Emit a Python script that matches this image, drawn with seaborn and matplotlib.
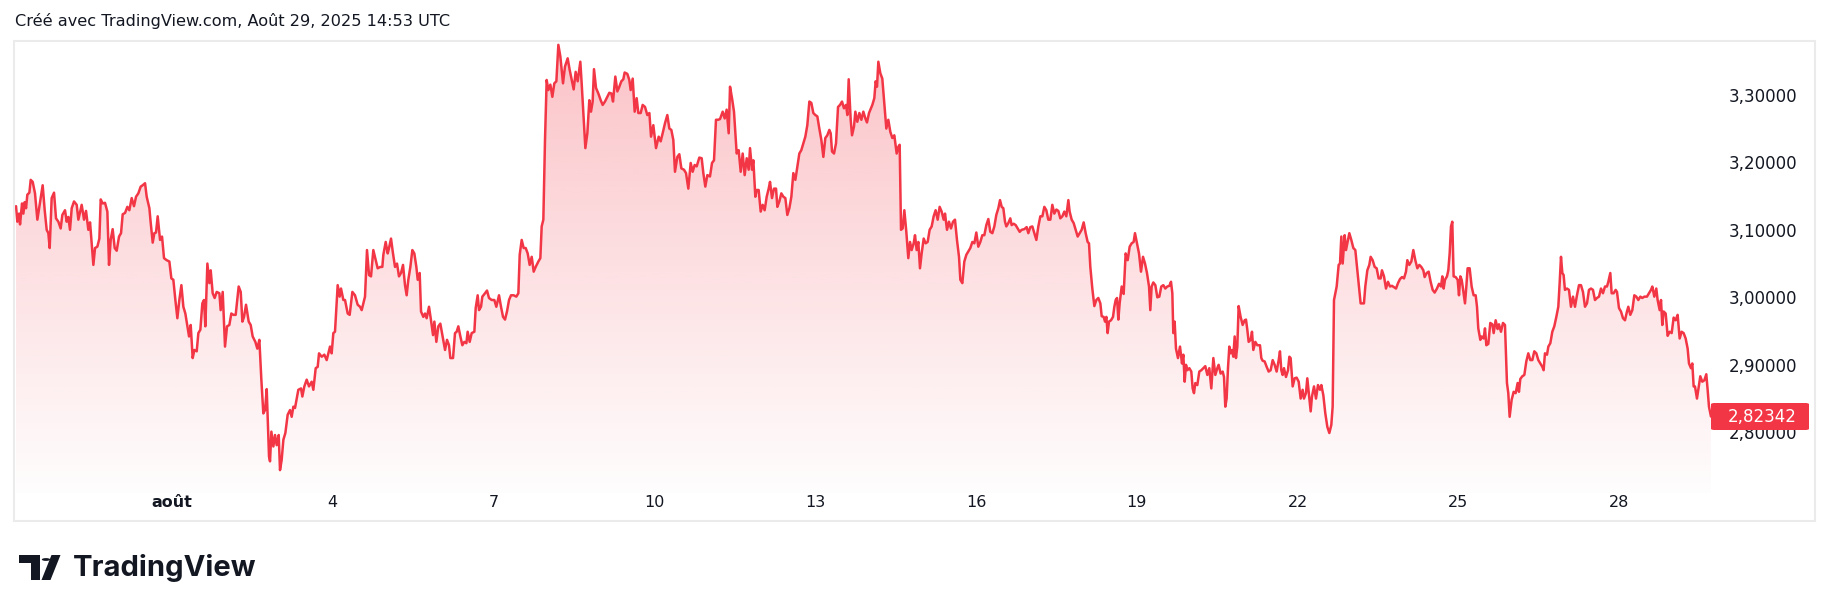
import numpy as np
import pandas as pd
import matplotlib
matplotlib.use("Agg")
import matplotlib.pyplot as plt
import matplotlib.colors as mcolors
from matplotlib.patches import Rectangle, FancyBboxPatch, Polygon, Circle
import seaborn as sns

# ---------------- data (days since 1 Aug 2025, price) ----------------
days = [
    -2.910, -2.885, -2.854, -2.835, -2.798, -2.773, -2.748, -2.723, -2.699, -2.661,
    -2.636, -2.599, -2.556, -2.512, -2.475, -2.413, -2.375, -2.338, -2.307, -2.282,
    -2.245, -2.201, -2.164, -2.120, -2.077, -2.046, -1.996, -1.965, -1.934, -1.903,
    -1.871, -1.828, -1.778, -1.747, -1.685, -1.641, -1.604, -1.561, -1.529, -1.467,
    -1.436, -1.393, -1.355, -1.330, -1.293, -1.250, -1.206, -1.175, -1.144, -1.107,
    -1.069, -1.032, -0.988, -0.951, -0.920, -0.876, -0.833, -0.796, -0.752, -0.709,
    -0.671, -0.628, -0.584, -0.547, -0.503, -0.472, -0.422, -0.398, -0.360, -0.329,
    -0.298, -0.267, -0.223, -0.186, -0.149, -0.099, -0.049, -0.012, 0.025, 0.063,
    0.100, 0.137, 0.175, 0.212, 0.249, 0.287, 0.318, 0.349, 0.386, 0.417,
    0.461, 0.492, 0.529, 0.566, 0.597, 0.622, 0.660, 0.697, 0.722, 0.759,
    0.796, 0.834, 0.884, 0.908, 0.946, 0.989, 1.027, 1.070, 1.107, 1.145,
    1.188, 1.244, 1.282, 1.313, 1.344, 1.381, 1.431, 1.468, 1.505, 1.555,
    1.592, 1.630, 1.667, 1.704, 1.736, 1.767, 1.810, 1.829, 1.854, 1.891,
    1.922, 1.953, 1.991, 2.015, 2.046, 2.078, 2.115, 2.158, 2.202, 2.233,
    2.264, 2.295,
    2.357, 2.407, 2.432, 2.469, 2.513, 2.556, 2.606, 2.637, 2.681, 2.718,
    2.743, 2.793, 2.842, 2.886, 2.948, 2.979, 3.010, 3.041, 3.091, 3.128,
    3.153, 3.197, 3.228, 3.278, 3.315, 3.365, 3.414, 3.464, 3.508, 3.539,
    3.570, 3.601, 3.638, 3.676, 3.713, 3.756, 3.800, 3.837, 3.887, 3.924,
    3.943, 3.987, 4.024, 4.049, 4.086, 4.123, 4.161, 4.198, 4.235, 4.273,
    4.310, 4.347, 4.378, 4.409, 4.447, 4.484, 4.521, 4.559, 4.584, 4.621,
    4.646, 4.689, 4.720, 4.751, 4.795, 4.832, 4.870, 4.895, 4.932, 4.969,
    5.006, 5.056, 5.094, 5.131, 5.168, 5.193, 5.243, 5.280, 5.311, 5.342,
    5.380, 5.417, 5.454, 5.492, 5.516, 5.554, 5.591, 5.641, 5.666, 5.703,
    5.728, 5.765, 5.790, 5.840, 5.877, 5.914, 5.964, 6.014, 6.051, 6.101,
    6.138, 6.176, 6.213, 6.250, 6.288, 6.325, 6.375, 6.424, 6.462, 6.487,
    6.524, 6.561, 6.599, 6.636, 6.673, 6.711, 6.748, 6.785, 6.835, 6.872,
    6.897, 6.928, 6.959, 6.990, 7.021, 7.059, 7.096, 7.133, 7.171, 7.208,
    7.245, 7.295, 7.332, 7.382, 7.419, 7.457, 7.494, 7.531, 7.569, 7.618,
    7.643, 7.712, 7.749, 7.786, 7.817, 7.848, 7.873, 7.911, 7.954, 7.998,
    8.035, 8.078, 8.122, 8.159, 8.197, 8.228, 8.271, 8.309, 8.346, 8.383,
    8.420, 8.445, 8.495, 8.532, 8.557, 8.595, 8.632, 8.669, 8.700, 8.744,
    8.781, 8.825, 8.868, 8.906, 8.937, 8.980, 9.030, 9.080, 9.117, 9.154,
    9.198, 9.241, 9.279, 9.316, 9.353, 9.384, 9.428, 9.465, 9.503, 9.552,
    9.590, 9.633, 9.677, 9.714, 9.751, 9.789, 9.838, 9.882, 9.913, 9.950,
    9.988, 10.037, 10.075, 10.112, 10.149, 10.187, 10.224, 10.274, 10.311, 10.348,
    10.386, 10.411, 10.448, 10.485, 10.535, 10.572, 10.610, 10.647, 10.684, 10.722,
    10.759, 10.784, 10.821, 10.846, 10.883, 10.908, 10.945, 10.983, 11.020, 11.057,
    11.095, 11.132, 11.157, 11.194, 11.231, 11.269, 11.294, 11.331, 11.368, 11.406,
    11.443, 11.480, 11.518, 11.555, 11.592, 11.630, 11.667, 11.704, 11.741, 11.779,
    11.816, 11.853, 11.891, 11.928, 11.965, 12.003, 12.040, 12.077, 12.115, 12.152,
    12.189, 12.226, 12.264, 12.289, 12.314, 12.351, 12.388, 12.426, 12.463, 12.500,
    12.537, 12.575, 12.600, 12.625, 12.662, 12.687, 12.724, 12.749, 12.786, 12.824,
    12.861, 12.898, 12.936,
    12.966, 13.004, 13.041, 13.066, 13.103, 13.128, 13.153, 13.178, 13.215, 13.252,
    13.290, 13.327, 13.364, 13.402, 13.439, 13.476, 13.520, 13.551, 13.576, 13.601,
    13.632, 13.663, 13.700, 13.737, 13.769, 13.800, 13.837, 13.862, 13.893, 13.924,
    13.955, 13.986, 14.024, 14.061, 14.098, 14.135, 14.173, 14.210, 14.247, 14.285,
    14.322, 14.359, 14.397, 14.422, 14.459, 14.496, 14.533, 14.571, 14.608, 14.645,
    14.683, 14.708, 14.745, 14.782, 14.820, 14.857, 14.894, 14.932, 14.969, 15.006,
    15.043, 15.081, 15.118, 15.155, 15.193, 15.230, 15.267, 15.305, 15.342, 15.379,
    15.417, 15.448, 15.479, 15.510, 15.541, 15.566, 15.603, 15.640, 15.665, 15.703,
    15.740, 15.777, 15.815, 15.852, 15.902, 15.945, 15.976, 16.014, 16.051, 16.088,
    16.126, 16.163, 16.200, 16.238, 16.275, 16.312, 16.349, 16.387, 16.424, 16.461,
    16.499, 16.536, 16.573, 16.611, 16.648, 16.685, 16.723, 16.747, 16.785, 16.822,
    16.859, 16.897, 16.934, 16.971, 17.009, 17.046, 17.083, 17.108, 17.133, 17.170,
    17.208, 17.245, 17.282, 17.320, 17.345, 17.382, 17.407, 17.432, 17.456, 17.481,
    17.519, 17.556, 17.581, 17.606, 17.631, 17.656, 17.680, 17.718, 17.755, 17.792,
    17.830, 17.867, 17.904, 17.941, 17.966, 18.004, 18.041, 18.078, 18.116, 18.153,
    18.190, 18.228, 18.252,
    18.277, 18.308, 18.346, 18.383, 18.420, 18.457, 18.495, 18.532, 18.569, 18.607,
    18.638, 18.663, 18.681, 18.706, 18.731, 18.768, 18.806, 18.843, 18.868, 18.893,
    18.918, 18.943, 18.980, 19.017, 19.042, 19.067, 19.092, 19.129, 19.166, 19.204,
    19.241, 19.278, 19.316, 19.353, 19.390, 19.428, 19.465, 19.502, 19.527, 19.564,
    19.602, 19.627, 19.651, 19.676, 19.701, 19.726, 19.751, 19.776, 19.801, 19.826,
    19.850, 19.875, 19.900, 19.937, 19.975, 20.012, 20.037, 20.062, 20.087, 20.124,
    20.149, 20.174, 20.211, 20.248, 20.298, 20.323, 20.348, 20.385, 20.423, 20.460,
    20.497, 20.535, 20.572, 20.609, 20.647, 20.671, 20.696, 20.721, 20.746, 20.783,
    20.821, 20.846, 20.870, 20.908, 20.945, 20.982, 21.020, 21.057, 21.094, 21.119,
    21.156, 21.181, 21.219, 21.244, 21.268, 21.306, 21.343, 21.380, 21.418, 21.443,
    21.480, 21.517, 21.555, 21.592, 21.629, 21.654, 21.679, 21.704, 21.729, 21.766,
    21.791, 21.816, 21.841, 21.878, 21.903, 21.928, 21.965, 22.002, 22.040, 22.077,
    22.114, 22.139, 22.176, 22.214, 22.238, 22.263, 22.301, 22.338, 22.363, 22.400,
    22.438, 22.475, 22.512, 22.550, 22.574, 22.612, 22.649, 22.686, 22.724, 22.761,
    22.798, 22.836, 22.873, 22.910, 22.948, 22.985, 23.022, 23.047, 23.084, 23.122,
    23.159, 23.196, 23.234, 23.271, 23.308, 23.346, 23.370, 23.408, 23.445, 23.482,
    23.520, 23.557,
    23.600, 23.638, 23.675, 23.700, 23.725, 23.750, 23.787, 23.812, 23.837, 23.862,
    23.886, 23.911, 23.949, 23.986, 24.011, 24.036, 24.061, 24.085, 24.123, 24.148,
    24.172, 24.210, 24.247, 24.284, 24.322, 24.347, 24.371, 24.409, 24.434, 24.471,
    24.496, 24.521, 24.558, 24.595, 24.633, 24.658, 24.695, 24.732, 24.757, 24.794,
    24.832, 24.869, 24.906, 24.931, 24.956, 24.993, 25.031, 25.068, 25.105, 25.130,
    25.155, 25.192, 25.230, 25.267, 25.304, 25.342, 25.379, 25.416, 25.454, 25.491,
    25.528, 25.566, 25.590, 25.615, 25.653, 25.678, 25.715, 25.752, 25.789, 25.827,
    25.864, 25.889, 25.914, 25.939, 25.963, 25.988, 26.026, 26.063, 26.100, 26.138,
    26.175, 26.212, 26.250, 26.287, 26.324, 26.362, 26.399, 26.436, 26.474, 26.511,
    26.548, 26.585, 26.623, 26.660, 26.697, 26.735, 26.772, 26.797, 26.834, 26.859,
    26.896, 26.934, 26.959, 26.996, 27.033, 27.071, 27.108, 27.145, 27.170, 27.207,
    27.245, 27.282, 27.319, 27.357, 27.394, 27.431, 27.469, 27.518, 27.556, 27.593,
    27.618, 27.655, 27.692, 27.717, 27.755, 27.780, 27.804, 27.829, 27.867, 27.904,
    27.941, 27.979, 28.016, 28.053, 28.090, 28.128, 28.165, 28.202, 28.240, 28.277,
    28.302, 28.339, 28.364, 28.389, 28.414, 28.451, 28.476, 28.513, 28.550, 28.588,
    28.625, 28.650, 28.675, 28.712,
]

prices = [
    3.135, 3.112, 3.124, 3.108, 3.139, 3.124, 3.141, 3.132, 3.152, 3.155,
    3.174, 3.171, 3.154, 3.115, 3.134, 3.166, 3.129, 3.100, 3.095, 3.073,
    3.147, 3.155, 3.117, 3.112, 3.102, 3.122, 3.129, 3.112, 3.119, 3.100,
    3.132, 3.142, 3.137, 3.115, 3.137, 3.115, 3.128, 3.100, 3.111, 3.048,
    3.073, 3.075, 3.087, 3.145, 3.139, 3.140, 3.127, 3.048, 3.085, 3.101,
    3.073, 3.069, 3.090, 3.095, 3.123, 3.125, 3.134, 3.129, 3.147, 3.135,
    3.149, 3.154, 3.164, 3.166, 3.169, 3.149, 3.132, 3.111, 3.081, 3.095,
    3.096, 3.120, 3.085, 3.090, 3.058, 3.055, 3.053, 3.028, 3.026, 2.996,
    2.969, 2.996, 3.018, 2.986, 2.976, 2.957, 2.942, 2.959, 2.910, 2.922,
    2.920, 2.947, 2.952, 2.991, 2.996, 2.957, 3.050, 3.021, 3.040, 3.006,
    2.999, 3.008, 3.006, 2.981, 3.008, 2.927, 2.957, 2.959, 2.976, 2.974,
    2.974, 3.016, 3.008, 2.964, 2.971, 2.989, 2.964, 2.959, 2.942, 2.934,
    2.924, 2.937, 2.878, 2.828, 2.833, 2.864, 2.764, 2.757, 2.801, 2.779,
    2.796, 2.781, 2.796, 2.744, 2.759, 2.789, 2.799, 2.826, 2.833, 2.823,
    2.838, 2.836,
    2.863, 2.865, 2.853, 2.868, 2.878, 2.868, 2.875, 2.863, 2.895, 2.897,
    2.917, 2.912, 2.915, 2.907, 2.927, 2.917, 2.947, 2.949, 3.018, 3.001,
    3.013, 2.996, 2.996, 2.976, 2.974, 3.008, 3.003, 2.989, 2.986, 2.981,
    2.991, 3.001, 3.070, 3.033, 3.031, 3.070, 3.055, 3.043, 3.045, 3.045,
    3.063, 3.082, 3.065, 3.073, 3.087, 3.065, 3.045, 3.050, 3.031, 3.036,
    3.048, 3.018, 3.003, 3.026, 3.045, 3.070, 3.065, 3.045, 3.026, 3.036,
    2.979, 2.971, 2.976, 2.969, 2.986, 2.966, 2.944, 2.964, 2.934, 2.957,
    2.961, 2.939, 2.922, 2.937, 2.929, 2.910, 2.910, 2.947, 2.949, 2.957,
    2.942, 2.929, 2.934, 2.932, 2.949, 2.934, 2.947, 2.949, 2.984, 3.003,
    2.981, 2.986, 3.001, 3.006, 3.010, 2.999, 2.996, 2.996, 2.986, 3.003,
    2.986, 2.971, 2.967, 2.979, 2.996, 3.003, 3.003, 3.001, 3.006, 3.063,
    3.085, 3.073, 3.073, 3.065, 3.048, 3.060, 3.038, 3.045, 3.053, 3.058,
    3.105, 3.115, 3.233, 3.322, 3.307, 3.315, 3.297, 3.317, 3.320, 3.374,
    3.357, 3.317, 3.342, 3.354, 3.337, 3.322, 3.308, 3.334, 3.320, 3.349,
    3.317, 3.221, 3.243, 3.292, 3.275, 3.290, 3.338, 3.310, 3.302, 3.292,
    3.285, 3.290, 3.297, 3.303, 3.302, 3.290, 3.327, 3.305, 3.312, 3.320,
    3.323, 3.333, 3.331, 3.322, 3.307, 3.324, 3.275, 3.295, 3.273, 3.273,
    3.285, 3.282, 3.270, 3.273, 3.238, 3.255, 3.221, 3.238, 3.231, 3.243,
    3.258, 3.270, 3.250, 3.248, 3.233, 3.186, 3.208, 3.212, 3.191, 3.189,
    3.184, 3.161, 3.199, 3.186, 3.196, 3.194, 3.207, 3.206, 3.184, 3.164,
    3.181, 3.179, 3.199, 3.203, 3.263, 3.263, 3.264, 3.275, 3.265, 3.278,
    3.243, 3.312, 3.295, 3.275, 3.213, 3.218, 3.186, 3.213, 3.181, 3.206,
    3.189, 3.221, 3.189, 3.203, 3.149, 3.159, 3.159, 3.127, 3.137, 3.129,
    3.149, 3.161, 3.171, 3.147, 3.161, 3.161, 3.134, 3.142, 3.154, 3.149,
    3.147, 3.122, 3.132, 3.149, 3.184, 3.174, 3.194, 3.213, 3.218, 3.228,
    3.238, 3.255, 3.290, 3.288, 3.273, 3.270, 3.268, 3.250, 3.233, 3.208,
    3.236, 3.240, 3.248, 3.243, 3.216, 3.213, 3.228, 3.282, 3.285, 3.290,
    3.280, 3.285, 3.270, 3.323, 3.263, 3.240, 3.253, 3.275, 3.260, 3.273,
    3.263, 3.275, 3.265,
    3.259, 3.273, 3.280, 3.285, 3.295, 3.320, 3.312, 3.349, 3.332, 3.324,
    3.287, 3.250, 3.263, 3.245, 3.236, 3.240, 3.213, 3.223, 3.226, 3.100,
    3.102, 3.129, 3.097, 3.058, 3.082, 3.070, 3.080, 3.092, 3.070, 3.082,
    3.043, 3.065, 3.087, 3.080, 3.082, 3.100, 3.105, 3.120, 3.129, 3.115,
    3.134, 3.127, 3.115, 3.124, 3.100, 3.112, 3.102, 3.112, 3.115, 3.085,
    3.060, 3.026, 3.021, 3.053, 3.063, 3.068, 3.073, 3.082, 3.080, 3.096,
    3.075, 3.082, 3.092, 3.092, 3.107, 3.116, 3.097, 3.095, 3.105, 3.122,
    3.132, 3.144, 3.134, 3.132, 3.112, 3.105, 3.110, 3.117, 3.107, 3.109,
    3.107, 3.102, 3.097, 3.100, 3.101, 3.104, 3.095, 3.104, 3.105, 3.095,
    3.085, 3.105, 3.120, 3.120, 3.134, 3.129, 3.115, 3.115, 3.137, 3.124,
    3.130, 3.128, 3.117, 3.120, 3.127, 3.120, 3.144, 3.127, 3.115, 3.110,
    3.100, 3.090, 3.095, 3.100, 3.111, 3.095, 3.082, 3.080, 3.045, 3.013,
    2.987, 2.996, 2.999, 2.991, 2.972, 2.971, 2.964, 2.971, 2.947, 2.964,
    2.966, 2.971, 2.986, 2.996, 2.999, 2.967, 2.991, 3.016, 3.005, 3.065,
    3.055, 3.075, 3.080, 3.082, 3.095, 3.080, 3.065, 3.038, 3.060, 3.050,
    3.036, 3.016, 2.981,
    3.016, 3.022, 3.018, 3.000, 3.001, 3.016, 3.018, 3.013, 3.016, 3.017,
    3.023, 3.006, 2.947, 2.964, 2.924, 2.910, 2.927, 2.902, 2.915, 2.875,
    2.900, 2.892, 2.895, 2.890, 2.865, 2.858, 2.873, 2.870, 2.890, 2.892,
    2.895, 2.898, 2.885, 2.895, 2.865, 2.910, 2.885, 2.895, 2.900, 2.887,
    2.890, 2.882, 2.838, 2.850, 2.895, 2.927, 2.917, 2.922, 2.912, 2.942,
    2.910, 2.927, 2.987, 2.971, 2.959, 2.966, 2.967, 2.952, 2.934, 2.937,
    2.949, 2.922, 2.934, 2.929, 2.929, 2.910, 2.906, 2.905, 2.897, 2.890,
    2.892, 2.907, 2.900, 2.890, 2.907, 2.920, 2.892, 2.885, 2.895, 2.882,
    2.892, 2.912, 2.910, 2.868, 2.880, 2.881, 2.875, 2.850, 2.863, 2.850,
    2.858, 2.880, 2.850, 2.831, 2.853, 2.868, 2.850, 2.870, 2.863, 2.870,
    2.855, 2.828, 2.808, 2.799, 2.811, 2.838, 2.996, 3.006, 3.016, 3.048,
    3.050, 3.090, 3.050, 3.092, 3.070, 3.080, 3.095, 3.085, 3.073, 3.070,
    3.040, 3.021, 2.991, 2.991, 2.991, 3.016, 3.040, 3.048, 3.060, 3.055,
    3.045, 3.043, 3.028, 3.028, 3.040, 3.031, 3.013, 3.023, 3.016, 3.017,
    3.015, 3.013, 3.021, 3.027, 3.030, 3.028, 3.038, 3.055, 3.048, 3.053,
    3.070, 3.055, 3.043, 3.048, 3.045, 3.040, 3.030, 3.036, 3.038, 3.023,
    3.011, 3.007,
    3.013, 3.020, 3.016, 3.031, 3.013, 3.026, 3.031, 3.040, 3.065, 3.105,
    3.112, 3.031, 3.030, 3.026, 3.003, 3.031, 3.026, 3.013, 2.991, 3.016,
    3.043, 3.043, 3.016, 3.003, 3.003, 2.986, 2.954, 2.937, 2.942, 2.939,
    2.954, 2.929, 2.931, 2.962, 2.960, 2.947, 2.966, 2.953, 2.960, 2.949,
    2.962, 2.959, 2.873, 2.858, 2.823, 2.848, 2.860, 2.858, 2.873, 2.860,
    2.879, 2.883, 2.885, 2.905, 2.917, 2.907, 2.907, 2.920, 2.917, 2.907,
    2.902, 2.897, 2.892, 2.917, 2.915, 2.927, 2.932, 2.949, 2.957, 2.971,
    2.986, 3.021, 3.060, 3.036, 3.033, 3.011, 3.013, 3.011, 2.986, 3.001,
    2.986, 3.003, 3.018, 3.018, 3.008, 2.986, 2.991, 3.011, 3.013, 3.011,
    2.996, 2.999, 3.001, 3.013, 3.006, 3.016, 3.016, 3.023, 3.036, 3.006,
    3.006, 3.011, 3.008, 2.984, 2.979, 2.969, 2.966, 2.979, 2.986, 2.974,
    2.981, 3.003, 3.001, 2.996, 3.001, 2.999, 3.001, 3.001, 3.006, 3.011,
    3.016, 3.001, 3.013, 2.996, 2.981, 2.996, 2.959, 2.979, 2.976, 2.943,
    2.949, 2.947, 2.970, 2.966, 2.974, 2.939, 2.949, 2.947, 2.939, 2.924,
    2.902, 2.895, 2.902, 2.868, 2.868, 2.850, 2.863, 2.883, 2.875, 2.877,
    2.886, 2.863, 2.838, 2.82342,
]

tick_days = [0, 3, 6, 9, 12, 15, 18, 21, 24, 27]
tick_labels = ["août", "4", "7", "10", "13", "16", "19", "22", "25", "28"]
price_ticks = [2.8, 2.9, 3.0, 3.1, 3.2, 3.3]
last_price = prices[-1]
header = "Créé avec TradingView.com, Août 29, 2025 14:53 UTC"
brand = "TradingView"

# ---------------- style / layout ----------------
W, H = 1830, 611
RED = "#F23645"
TXT = "#131722"

sns.set_theme(style="white")
plt.rcParams["font.family"] = ["DejaVu Sans"]

fig = plt.figure(figsize=(W / 100, H / 100), dpi=100)
fig.patch.set_facecolor("white")

# pane (px from top-left)
L, R, T, B = 14, 1718, 41, 493
ax = fig.add_axes([L / W, 1 - B / H, (R - L) / W, (B - T) / H])
ax.set_facecolor("none")

PX_DAY0, PX_PER_DAY = 172.0, 53.6
xmin = (L - PX_DAY0) / PX_PER_DAY
xmax = (R - PX_DAY0) / PX_PER_DAY
ymin, ymax = 2.7101, 3.3797

df = pd.DataFrame({"day": days, "price": prices})
sns.lineplot(data=df, x="day", y="price", ax=ax, color=RED, linewidth=1.8,
             estimator=None, sort=False, zorder=3)

# gradient area under the line
fb = ax.fill_between(df["day"], df["price"], ymin, color="none", lw=0)
grad = np.zeros((256, 1, 4))
grad[..., :3] = mcolors.to_rgb(RED)
grad[..., 3] = np.linspace(0.01, 0.30, 256)[:, None]
im = ax.imshow(grad, extent=[xmin, xmax, ymin, max(prices)], origin="lower",
               aspect="auto", zorder=2, interpolation="bilinear")
im.set_clip_path(fb.get_paths()[0], ax.transData)

ax.set_xlim(xmin, xmax)
ax.set_ylim(ymin, ymax)
ax.set_xlabel("")
ax.set_ylabel("")
sns.despine(ax=ax, left=True, bottom=True, right=True, top=True)

# x ticks (time axis)
ax.set_xticks(tick_days, labels=tick_labels)
ax.tick_params(axis="x", length=0, pad=1.5, labelsize=11.5, labelcolor=TXT)
ax.get_xticklabels()[0].set_fontweight("bold")

# y ticks (price scale on the right, right-aligned)
ax.yaxis.tick_right()
ax.set_yticks(price_ticks, labels=[f"{v:.5f}".replace(".", ",") for v in price_ticks])
ax.tick_params(axis="y", length=0, pad=(1797 - R) * 0.72, labelsize=12, labelcolor=TXT,
               left=False, labelleft=False, right=False, labelright=True)
for lbl in ax.get_yticklabels():
    lbl.set_horizontalalignment("right")
ax.grid(False)

# outer frame
fig.add_artist(Rectangle((14 / W, 1 - 521 / H), (1815 - 14) / W, (521 - 41) / H,
                         transform=fig.transFigure, fill=False,
                         edgecolor="#ebebeb", lw=1.5))

# last price label
fig.canvas.draw()
y_disp = ax.transData.transform((0, last_price))[1]
bh = 27
fig.add_artist(FancyBboxPatch((1711 / W, (y_disp - bh / 2) / H), (1809 - 1711) / W, bh / H,
                              boxstyle="round,pad=0,rounding_size=0.002",
                              transform=fig.transFigure, facecolor=RED,
                              edgecolor="none", zorder=10))
fig.text(1797 / W, y_disp / H, f"{last_price:.5f}".replace(".", ","), ha="right",
         va="center", color="white", fontsize=12, zorder=11)

# header
fig.text(15 / W, 1 - 21 / H, header, ha="left", va="center", fontsize=11.6, color=TXT)

# logo icon + brand text
def fp(x, y):
    return (x / W, 1 - y / H)

icon = dict(transform=fig.transFigure, facecolor=TXT, edgecolor="none")
fig.add_artist(Polygon([fp(19, 555), fp(40, 555), fp(40, 580), fp(30.5, 580),
                        fp(30.5, 563), fp(19, 563)], closed=True, **icon))
fig.add_artist(Polygon([fp(51.5, 555), fp(60.5, 555), fp(50.5, 580), fp(41.5, 580)],
                       closed=True, **icon))
fig.add_artist(Circle(fp(46.0, 559.5), 4.2 / W, **icon))
fig.text(73 / W, 1 - 568 / H, brand, ha="left", va="center", fontsize=21,
         fontweight="bold", color=TXT, family=["Inter", "DejaVu Sans"])

fig.savefig("out.png", dpi=100, facecolor="white")
